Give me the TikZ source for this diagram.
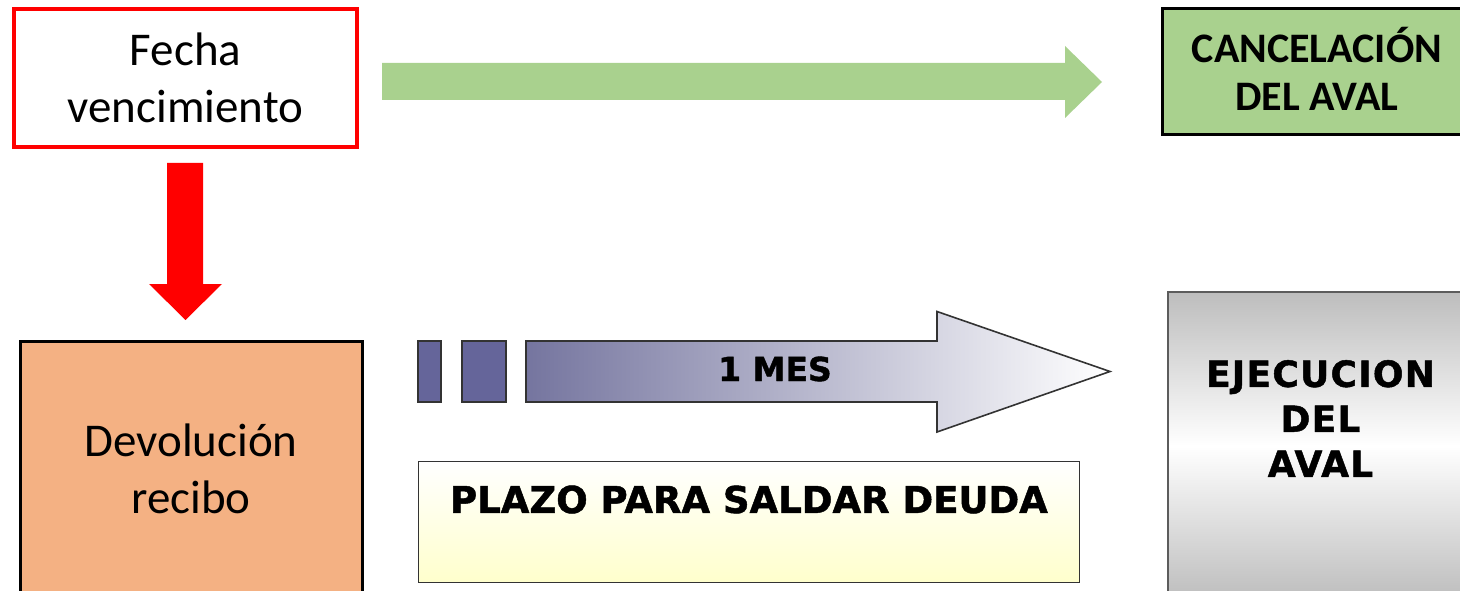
\documentclass[tikz,border=0pt]{standalone}
\usepackage{fontspec}
\newfontfamily\calib{Carlito}
\newfontfamily\verd{DejaVu Sans}[BoldFeatures={FakeBold=1.3}]
\newfontfamily\verdw{DejaVu Sans}[BoldFeatures={FakeBold=1.3}, LetterSpace=3.5]
\definecolor{aGreen}{HTML}{A9D18E}
\definecolor{aSalmon}{HTML}{F4B183}
\definecolor{aPurple}{HTML}{65659A}
\definecolor{aPurpleL}{HTML}{75759F}
\definecolor{aYellow}{HTML}{FFFFCC}
\definecolor{aGray}{HTML}{BDBDBD}
\definecolor{aEdge}{HTML}{333333}
\begin{document}
\begin{tikzpicture}[x=1pt,y=-1pt,
  boxA/.style={line width=3pt, inner sep=0pt, align=center},
  calibtxt/.style={font=\calib\fontsize{47}{57}\selectfont, align=center},
  calibbold/.style={font=\calib\bfseries\fontsize{42}{48}\selectfont, align=center},
  verdtxt/.style={font=\verd\bfseries, align=center, inner sep=0pt},
  thinbox/.style={draw=aEdge, line width=1.6pt, inner sep=0pt}
]
\useasboundingbox (0,0) rectangle (1460,591);
\clip (0,0) rectangle (1460,591);
% top left box
\node[boxA, draw=red, line width=3.4pt, fill=white, minimum width=343pt, minimum height=138pt, calibtxt] (fecha) at (185.5,78) {Fecha\\vencimiento};
% red arrow down
\fill[red] (167,163) -- (203,163) -- (203,284) -- (222,284) -- (185.5,320) -- (149,284) -- (167,284) -- cycle;
% green arrow right
\fill[aGreen] (382,63) -- (1065,63) -- (1065,46) -- (1102,82) -- (1065,118) -- (1065,100) -- (382,100) -- cycle;
% cancelacion
\node[boxA, draw=black, fill=aGreen, minimum width=310pt, minimum height=126pt] (cancel) at (1317,72) {};
\node[calibbold, inner sep=0pt] (cancelt) at (1317,68.5) {CANCELACIÓN\\DEL AVAL};
% devolucion
\node[boxA, draw=black, fill=aSalmon, minimum width=342pt, minimum height=256pt, calibtxt] (devol) at (191,469) {Devolución\\recibo};
% small purple blocks
\draw[draw=aEdge, line width=1.6pt, fill=aPurple] (418,341) rectangle (441,402);
\draw[draw=aEdge, line width=1.6pt, fill=aPurple] (462,341) rectangle (506,402);
% gradient arrow
\draw[draw=aEdge, line width=1.6pt, left color=aPurpleL, right color=white]
  (526,341) -- (937,341) -- (937,311.5) -- (1110,371.5) -- (937,432) -- (937,402) -- (526,402) -- cycle;
\node[verdtxt, font=\verd\bfseries\fontsize{33}{40}\selectfont] (mes) at (775,369) {1 MES};
% plazo box
\node[thinbox, top color=white, bottom color=aYellow, minimum width=661pt, minimum height=121pt] (plazo) at (749,522) {};
\node[verdtxt, font=\verd\bfseries\fontsize{37}{44}\selectfont] (plazot) at (749,499.5) {PLAZO PARA SALDAR DEUDA};
% ejecucion box
\node[thinbox, draw=aEdge!80, top color=aGray, bottom color=aGray, middle color=white, minimum width=304pt, minimum height=308pt] (ejec) at (1320,446) {};
\node[verdtxt, font=\verdw\bfseries\fontsize{36}{45}\selectfont] (eject) at (1320.5,418.5) {EJECUCION\\DEL\\AVAL};
\end{tikzpicture}
\end{document}
